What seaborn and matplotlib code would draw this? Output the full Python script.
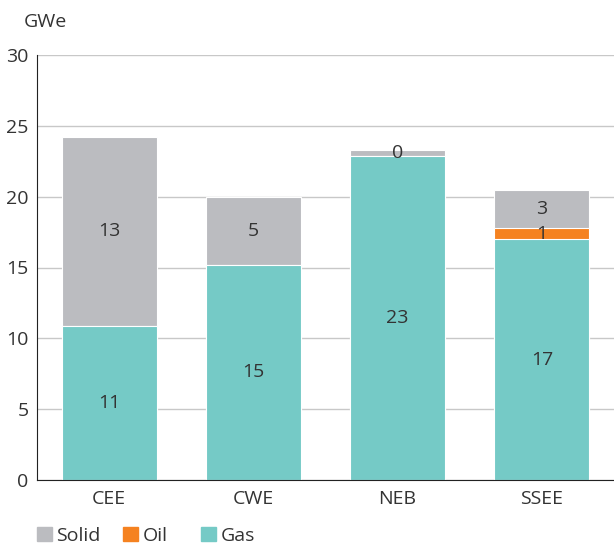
import numpy as np
import pandas as pd
import seaborn as sns
import matplotlib.pyplot as plt
from matplotlib.patches import Patch

regions = ["CEE", "CWE", "NEB", "SSEE"]
gas = [10.9, 15.2, 22.9, 17.0]
oil = [0.0, 0.0, 0.0, 0.8]
solid = [13.3, 4.8, 0.4, 2.7]

col_solid = "#bbbcc0"
col_oil = "#f58220"
col_gas = "#75cac6"
txt = "#333333"
fs = 14

sns.set_style("white")
plt.rcParams["font.family"] = ["Open Sans", "DejaVu Sans"]

df = pd.DataFrame({"region": regions, "gas": gas, "oil": oil, "solid": solid})
df["gas_oil"] = df["gas"] + df["oil"]
df["total"] = df["gas_oil"] + df["solid"]

fig = plt.figure(figsize=(6.14, 5.45), dpi=100)
ax = fig.add_axes([37 / 614, 1 - 480 / 545, 1 - 37 / 614, 425 / 545])

for col, c in [("total", col_solid), ("gas_oil", col_oil), ("gas", col_gas)]:
    sns.barplot(data=df, x="region", y=col, color=c, width=0.66, saturation=1,
                edgecolor="white", linewidth=0.8, ax=ax)

# segment labels
for i, r in df.iterrows():
    ax.text(i, r["gas"] / 2, f"{r['gas']:.0f}", ha="center", va="center", fontsize=fs, color=txt)
    if r["oil"] > 0:
        ax.text(i, r["gas"] + r["oil"] / 2, f"{r['oil']:.0f}", ha="center", va="center", fontsize=fs, color=txt)
    ax.text(i, r["gas_oil"] + r["solid"] / 2, f"{r['solid']:.0f}", ha="center", va="center", fontsize=fs, color=txt)

ax.set_xlim(-0.5, 3.5)
ax.set_ylim(0, 30)
ax.set_yticks(range(0, 31, 5))
ax.yaxis.grid(True, color="#c8c8c8", linewidth=1)
ax.set_axisbelow(True)
ax.set_xlabel("")
ax.set_ylabel("")
for s in ["top", "right"]:
    ax.spines[s].set_visible(False)
ax.spines["left"].set_color("#222222")
ax.spines["bottom"].set_color("#222222")
ax.tick_params(axis="y", length=0, labelsize=fs, labelcolor=txt, pad=6)
ax.tick_params(axis="x", which="major", length=0, labelsize=fs, labelcolor=txt, pad=7)
ax.set_xticks(np.arange(-0.5, 3.6, 1), minor=True)
ax.tick_params(axis="x", which="minor", length=6, color="#222222", width=1)

fig.text(24 / 614, 1 - 22 / 545, "GWe", fontsize=fs, color=txt, va="center")

# legend entries at fixed positions
for x, name, c in [(37, "Solid", col_solid), (123, "Oil", col_oil), (201, "Gas", col_gas)]:
    fig.legend(handles=[Patch(color=c, label=name)], loc="lower left",
               bbox_to_anchor=(x / 614, 0.0), frameon=False, fontsize=fs,
               handlelength=0.75, handleheight=0.75, handletextpad=0.25,
               borderpad=0, borderaxespad=0, labelcolor=txt)

fig.savefig("out.png", dpi=100)
